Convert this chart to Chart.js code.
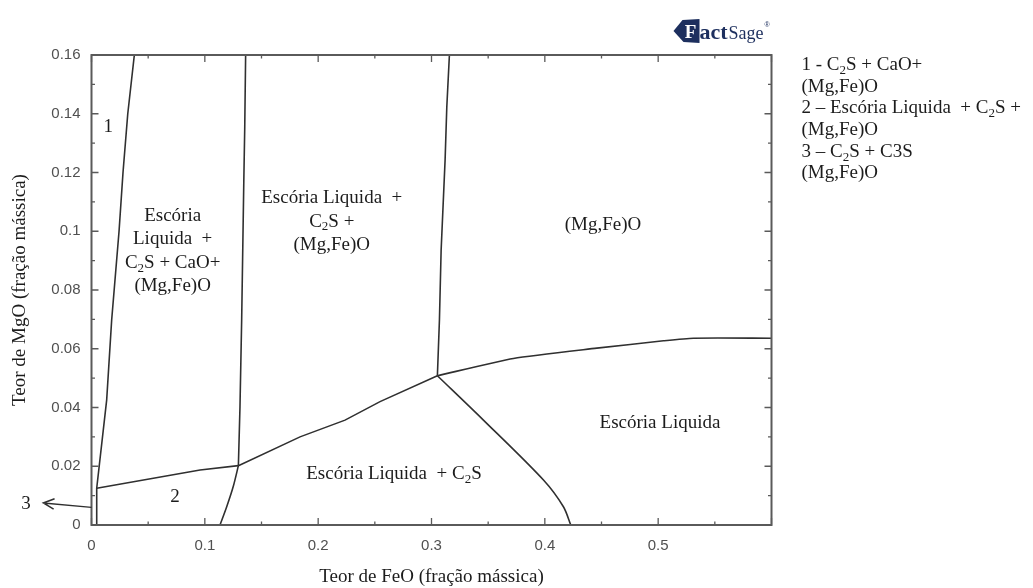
<!DOCTYPE html>
<html>
<head>
<meta charset="utf-8">
<title>Diagrama FeO x MgO</title>
<script src="https://cdn.jsdelivr.net/npm/chart.js@4.4.1/dist/chart.umd.min.js"></script>
<style>
  html, body { margin: 0; padding: 0; background: #fff; }
  #wrap { width: 1033px; height: 588px; }
</style>
</head>
<body>
<div id="wrap"><canvas id="c" width="1033" height="588"></canvas></div>
<script>
// Axis ticks (mass fractions)
const feoTicks = [0, 0.1, 0.2, 0.3, 0.4, 0.5, 0.6];
const feoTickLabels = ['0', '0.1', '0.2', '0.3', '0.4', '0.5', ''];
const feoMinorTicks = [0.05, 0.15, 0.25, 0.35, 0.45, 0.55];
const mgoTicks = [0, 0.02, 0.04, 0.06, 0.08, 0.1, 0.12, 0.14, 0.16];
const mgoTickLabels = ['0', '0.02', '0.04', '0.06', '0.08', '0.1', '0.12', '0.14', '0.16'];
const mgoMinorTicks = [0.01, 0.03, 0.05, 0.07, 0.09, 0.11, 0.13, 0.15];

// Phase boundaries: FeO (x) and MgO (y)
const leftBoundaryFeO  = [0.0046, 0.0046, 0.0134, 0.0178, 0.0243, 0.0278, 0.032, 0.0378];
const leftBoundaryMgO  = [0, 0.0125, 0.0426, 0.0698, 0.1, 0.12, 0.14, 0.16];

const lowLeftFeO       = [0.0046, 0.0958, 0.1296];
const lowLeftMgO       = [0.0125, 0.0187, 0.0202];

const midVerticalFeO   = [0.1296, 0.131, 0.1325, 0.1344, 0.1352, 0.136];
const midVerticalMgO   = [0.0202, 0.04, 0.0698, 0.1174, 0.135, 0.16];

const midLowerFeO      = [0.1296, 0.125, 0.1193, 0.1134];
const midLowerMgO      = [0.0202, 0.0130, 0.0062, 0];

const risingFeO        = [0.1296, 0.184, 0.2237, 0.2546, 0.3052];
const risingMgO        = [0.0202, 0.030, 0.0357, 0.042, 0.0508];

const rightVerticalFeO = [0.3052, 0.307, 0.3085, 0.312, 0.3135, 0.3158];
const rightVerticalMgO = [0.0508, 0.0698, 0.0936, 0.1243, 0.1423, 0.16];

const plateauFeO       = [0.3052, 0.3723, 0.4459, 0.5047, 0.5311, 0.6];
const plateauMgO       = [0.0508, 0.0567, 0.0602, 0.0627, 0.0636, 0.0636];

const liquidusFeO      = [0.3052, 0.3458, 0.3988, 0.4164, 0.4229];
const liquidusMgO      = [0.0508, 0.0357, 0.0153, 0.0062, 0];

// Phase field names (anchor in FeO / MgO units); "_2" marks a subscript
const fieldLabels = [
  { lines: ['1'], feo: 0.0148, mgo: 0.1355 },
  { lines: ['Escória', 'Liquida  +', 'C_2S + CaO+', '(Mg,Fe)O'], feo: 0.0716, mgo: 0.0932 },
  { lines: ['Escória Liquida  +', 'C_2S +', '(Mg,Fe)O'], feo: 0.212, mgo: 0.1033 },
  { lines: ['(Mg,Fe)O'], feo: 0.4513, mgo: 0.1021 },
  { lines: ['Escória Liquida'], feo: 0.5016, mgo: 0.0346 },
  { lines: ['Escória Liquida  + C_2S'], feo: 0.2669, mgo: 0.0174 },
  { lines: ['2'], feo: 0.0737, mgo: 0.0094 },
  { lines: ['3'], feo: -0.0578, mgo: 0.0071 }
];
// Pointer to the narrow field 3 next to the MgO axis
const field3Arrow = { fromFeO: 0, fromMgO: 0.006, toFeO: -0.0425, toMgO: 0.0075 };

const keyLines = [
  '1 - C_2S + CaO+',
  '(Mg,Fe)O',
  '2 – Escória Liquida  + C_2S +',
  '(Mg,Fe)O',
  '3 – C_2S + C3S',
  '(Mg,Fe)O'
];

const boundaries = [
  [leftBoundaryFeO, leftBoundaryMgO, 0],
  [lowLeftFeO, lowLeftMgO, 0],
  [midVerticalFeO, midVerticalMgO, 0],
  [midLowerFeO, midLowerMgO, 0.3],
  [risingFeO, risingMgO, 0],
  [rightVerticalFeO, rightVerticalMgO, 0],
  [plateauFeO, plateauMgO, 0.2],
  [liquidusFeO, liquidusMgO, 0.3]
];

const SERIF = '"Liberation Serif", "Times New Roman", serif';
const SANS = '"Liberation Sans", Arial, sans-serif';
const INK = '#1c1c1c';
const LINE = '#303030';
const FRAME = '#5a5a5a';
const TEXT_SIZE = 19;

function richParts(str) {
  const parts = [];
  let buf = '';
  for (let i = 0; i < str.length; i++) {
    if (str[i] === '_') {
      if (buf) { parts.push({ t: buf, sub: false }); buf = ''; }
      parts.push({ t: str[i + 1], sub: true });
      i++;
    } else {
      buf += str[i];
    }
  }
  if (buf) parts.push({ t: buf, sub: false });
  return parts;
}

function drawRich(ctx, str, x, y, size, align) {
  const parts = richParts(str);
  const main = size + 'px ' + SERIF;
  const sub = Math.round(size * 0.68) + 'px ' + SERIF;
  let w = 0;
  parts.forEach(p => { ctx.font = p.sub ? sub : main; p.w = ctx.measureText(p.t).width; w += p.w; });
  let cx = align === 'center' ? x - w / 2 : x;
  ctx.textAlign = 'left';
  ctx.textBaseline = 'middle';
  parts.forEach(p => {
    ctx.font = p.sub ? sub : main;
    ctx.fillText(p.t, cx, y + (p.sub ? size * 0.28 : 0));
    cx += p.w;
  });
}

function drawLogo(ctx, right, top) {
  const navy = '#1d2f5e';
  ctx.save();
  // emblem
  const x0 = right - 98, y0 = top - 37;
  ctx.fillStyle = navy;
  ctx.beginPath();
  ctx.moveTo(x0, y0 + 13);
  ctx.lineTo(x0 + 9, y0 + 2);
  ctx.lineTo(x0 + 26, y0 + 1);
  ctx.lineTo(x0 + 26, y0 + 25);
  ctx.lineTo(x0 + 10, y0 + 24);
  ctx.closePath();
  ctx.fill();
  ctx.fillStyle = '#fff';
  ctx.font = 'bold 19px ' + SERIF;
  ctx.textAlign = 'center';
  ctx.textBaseline = 'alphabetic';
  ctx.fillText('F', x0 + 17, y0 + 20);
  // word mark
  ctx.fillStyle = navy;
  ctx.textAlign = 'left';
  ctx.font = 'bold 22px ' + SERIF;
  ctx.fillText('act', x0 + 26, y0 + 21);
  const wAct = ctx.measureText('act').width;
  ctx.font = '18px ' + SERIF;
  ctx.fillText('Sage', x0 + 27 + wAct, y0 + 21);
  const wSage = ctx.measureText('Sage').width;
  ctx.font = '7px ' + SANS;
  ctx.fillText('®', x0 + 28 + wAct + wSage, y0 + 9);
  ctx.restore();
}

const framePlugin = {
  id: 'frameAndNotes',
  afterDatasetsDraw(chart) {
    const { ctx, chartArea: a, scales: { x, y } } = chart;
    ctx.save();

    // plot frame
    ctx.strokeStyle = FRAME;
    ctx.lineWidth = 2;
    ctx.strokeRect(a.left, a.top, a.right - a.left, a.bottom - a.top);

    // inward ticks on all four sides
    ctx.lineWidth = 1.3;
    ctx.beginPath();
    const vTick = (v, len) => {
      const px = x.getPixelForValue(v);
      ctx.moveTo(px, a.bottom); ctx.lineTo(px, a.bottom - len);
      ctx.moveTo(px, a.top); ctx.lineTo(px, a.top + len);
    };
    const hTick = (v, len) => {
      const py = y.getPixelForValue(v);
      ctx.moveTo(a.left, py); ctx.lineTo(a.left + len, py);
      ctx.moveTo(a.right, py); ctx.lineTo(a.right - len, py);
    };
    feoTicks.forEach(v => vTick(v, 7));
    feoMinorTicks.forEach(v => vTick(v, 3.5));
    mgoTicks.forEach(v => hTick(v, 7));
    mgoMinorTicks.forEach(v => hTick(v, 3.5));
    ctx.stroke();

    // phase field names
    ctx.fillStyle = INK;
    const lineGap = 23.5;
    fieldLabels.forEach(l => {
      const cx = x.getPixelForValue(l.feo);
      const cy = y.getPixelForValue(l.mgo);
      const y0 = cy - (l.lines.length - 1) * lineGap / 2;
      l.lines.forEach((s, i) => drawRich(ctx, s, cx, y0 + i * lineGap, TEXT_SIZE, 'center'));
    });

    // arrow to field 3
    const fx = x.getPixelForValue(field3Arrow.fromFeO), fy = y.getPixelForValue(field3Arrow.fromMgO);
    const tx = x.getPixelForValue(field3Arrow.toFeO), ty = y.getPixelForValue(field3Arrow.toMgO);
    const ang = Math.atan2(fy - ty, fx - tx);
    ctx.strokeStyle = LINE;
    ctx.lineWidth = 1.5;
    ctx.beginPath();
    ctx.moveTo(fx, fy); ctx.lineTo(tx, ty);
    ctx.moveTo(tx + 12 * Math.cos(ang - 0.45), ty + 12 * Math.sin(ang - 0.45));
    ctx.lineTo(tx, ty);
    ctx.lineTo(tx + 12 * Math.cos(ang + 0.45), ty + 12 * Math.sin(ang + 0.45));
    ctx.stroke();

    // key to numbered fields
    ctx.fillStyle = INK;
    keyLines.forEach((s, i) => drawRich(ctx, s, a.right + 30, a.top + 10 + i * 21.7, TEXT_SIZE, 'left'));

    drawLogo(ctx, a.right, a.top);
    ctx.restore();
  }
};

new Chart(document.getElementById('c'), {
  type: 'scatter',
  data: {
    datasets: boundaries.map(([xs, ys, t]) => ({
      data: xs.map((v, i) => ({ x: v, y: ys[i] })),
      showLine: true,
      borderColor: LINE,
      borderWidth: 1.6,
      pointRadius: 0,
      pointHoverRadius: 0,
      tension: t,
      fill: false
    }))
  },
  options: {
    responsive: false,
    devicePixelRatio: 1,
    animation: false,
    events: [],
    layout: { padding: { left: 0, right: 261.5, top: 55, bottom: 0 } },
    plugins: { legend: { display: false }, tooltip: { enabled: false } },
    scales: {
      x: {
        type: 'linear', min: 0, max: 0.6,
        afterBuildTicks: s => { s.ticks = feoTicks.map(v => ({ value: v })); },
        afterFit: s => { s.height = 63; },
        grid: { display: false, drawTicks: false },
        border: { display: false },
        ticks: {
          autoSkip: false, maxRotation: 0, padding: 12,
          color: '#505050', font: { family: SANS, size: 15 },
          callback: (v, i) => feoTickLabels[i]
        },
        title: {
          display: true, text: 'Teor de FeO (fração mássica)',
          color: INK, font: { family: SERIF, size: 19 },
          padding: { top: 0, bottom: 0 }
        }
      },
      y: {
        type: 'linear', min: 0, max: 0.16,
        afterBuildTicks: s => { s.ticks = mgoTicks.map(v => ({ value: v })); },
        afterFit: s => { s.width = 91.5; },
        grid: { display: false, drawTicks: false },
        border: { display: false },
        ticks: {
          autoSkip: false, padding: 11,
          color: '#505050', font: { family: SANS, size: 15 },
          callback: (v, i) => mgoTickLabels[i]
        },
        title: {
          display: true, text: 'Teor de MgO (fração mássica)',
          color: INK, font: { family: SERIF, size: 19 },
          padding: { top: 9, bottom: 0 }
        }
      }
    }
  },
  plugins: [framePlugin]
});
</script>
</body>
</html>
